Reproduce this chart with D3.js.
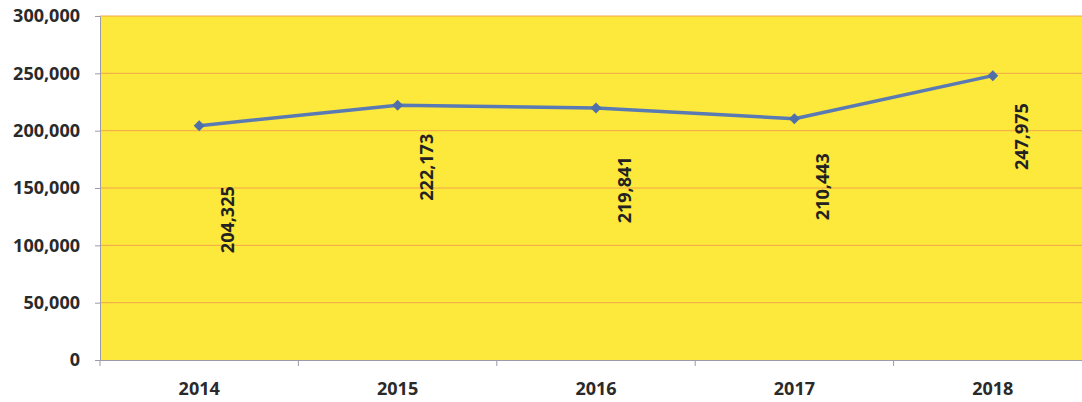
<!DOCTYPE html>
<html><head><meta charset="utf-8">
<script src="https://cdn.jsdelivr.net/npm/d3@7"></script>
<style>body{margin:0;background:#fff}svg{display:block}</style>
</head><body><svg id="c" width="1082" height="402"></svg>
<script>
const years = ["2014","2015","2016","2017","2018"];
const values = [204325, 222173, 219841, 210443, 247975];
const valueLabels = ["204,325","222,173","219,841","210,443","247,975"];
const yTicks = [0, 50000, 100000, 150000, 200000, 250000, 300000];

(function(){
const svg = d3.select("#c");
const mL = 100, mT = 16, mB = 360, mR = 1092;
const FONT = "'Open Sans', sans-serif";
const x = d3.scaleBand().domain(years).range([mL, mR]);
const y = d3.scaleLinear().domain([0, 300000]).range([mB, mT]);

svg.append("rect").attr("x", mL).attr("y", mT).attr("width", mR-mL).attr("height", mB-mT).attr("fill", "#fde83c");

svg.append("g").selectAll("line").data(yTicks.filter(d=>d>0)).join("line")
  .attr("x1", mL).attr("x2", mR).attr("y1", d=>y(d)).attr("y2", d=>y(d))
  .attr("stroke", "#f2a64a").attr("stroke-width", 1);

const ya = svg.append("g").attr("transform", `translate(${mL},0)`)
  .call(d3.axisLeft(y).tickValues(yTicks).tickFormat(d3.format(",")).tickSize(5).tickPadding(15));
ya.select(".domain").attr("stroke", "#9a9aa8");
ya.selectAll(".tick line").attr("stroke", "#9a9aa8");
ya.selectAll("text").attr("font-family", FONT).attr("font-weight", "bold").attr("font-size", 18).attr("fill", "#2a2a2a");

const xa = svg.append("g").attr("transform", `translate(0,${mB})`)
  .call(d3.axisBottom(x).tickSize(0).tickPadding(22));
xa.select(".domain").attr("stroke", "#9a9aa8");
xa.selectAll("text").attr("font-family", FONT).attr("font-weight", "bold").attr("font-size", 18).attr("fill", "#2a2a2a");
svg.append("g").selectAll("line").data(years).join("line")
  .attr("x1", d=>x(d)).attr("x2", d=>x(d)).attr("y1", mB).attr("y2", mB+6)
  .attr("stroke", "#9a9aa8");

const cx = (d,i) => x(years[i]) + x.bandwidth()/2;
const line = d3.line().x((d,i)=>cx(d,i)).y(d=>y(d));
svg.append("path").datum(values).attr("d", line).attr("fill", "none")
  .attr("stroke", "#5a7ab4").attr("stroke-width", 3.5).attr("stroke-linejoin", "round");

svg.append("g").selectAll("path").data(values).join("path")
  .attr("d", d3.symbol(d3.symbolSquare, 60))
  .attr("transform", (d,i)=>`translate(${cx(d,i)},${y(d)}) rotate(45)`)
  .attr("fill", "#4f6fa8");

// manual label placement below each point (as in the original)
const labelDy = [94, 62, 82, 68, 61];
svg.append("g").selectAll("text").data(values).join("text")
  .attr("transform", (d,i)=>`translate(${cx(d,i)+35},${y(d)+labelDy[i]}) rotate(-90)`)
  .attr("text-anchor", "middle")
  .attr("font-family", FONT).attr("font-weight", "bold").attr("font-size", 18)
  .attr("fill", "#222").text((d,i)=>valueLabels[i]);
})();
</script></body></html>
